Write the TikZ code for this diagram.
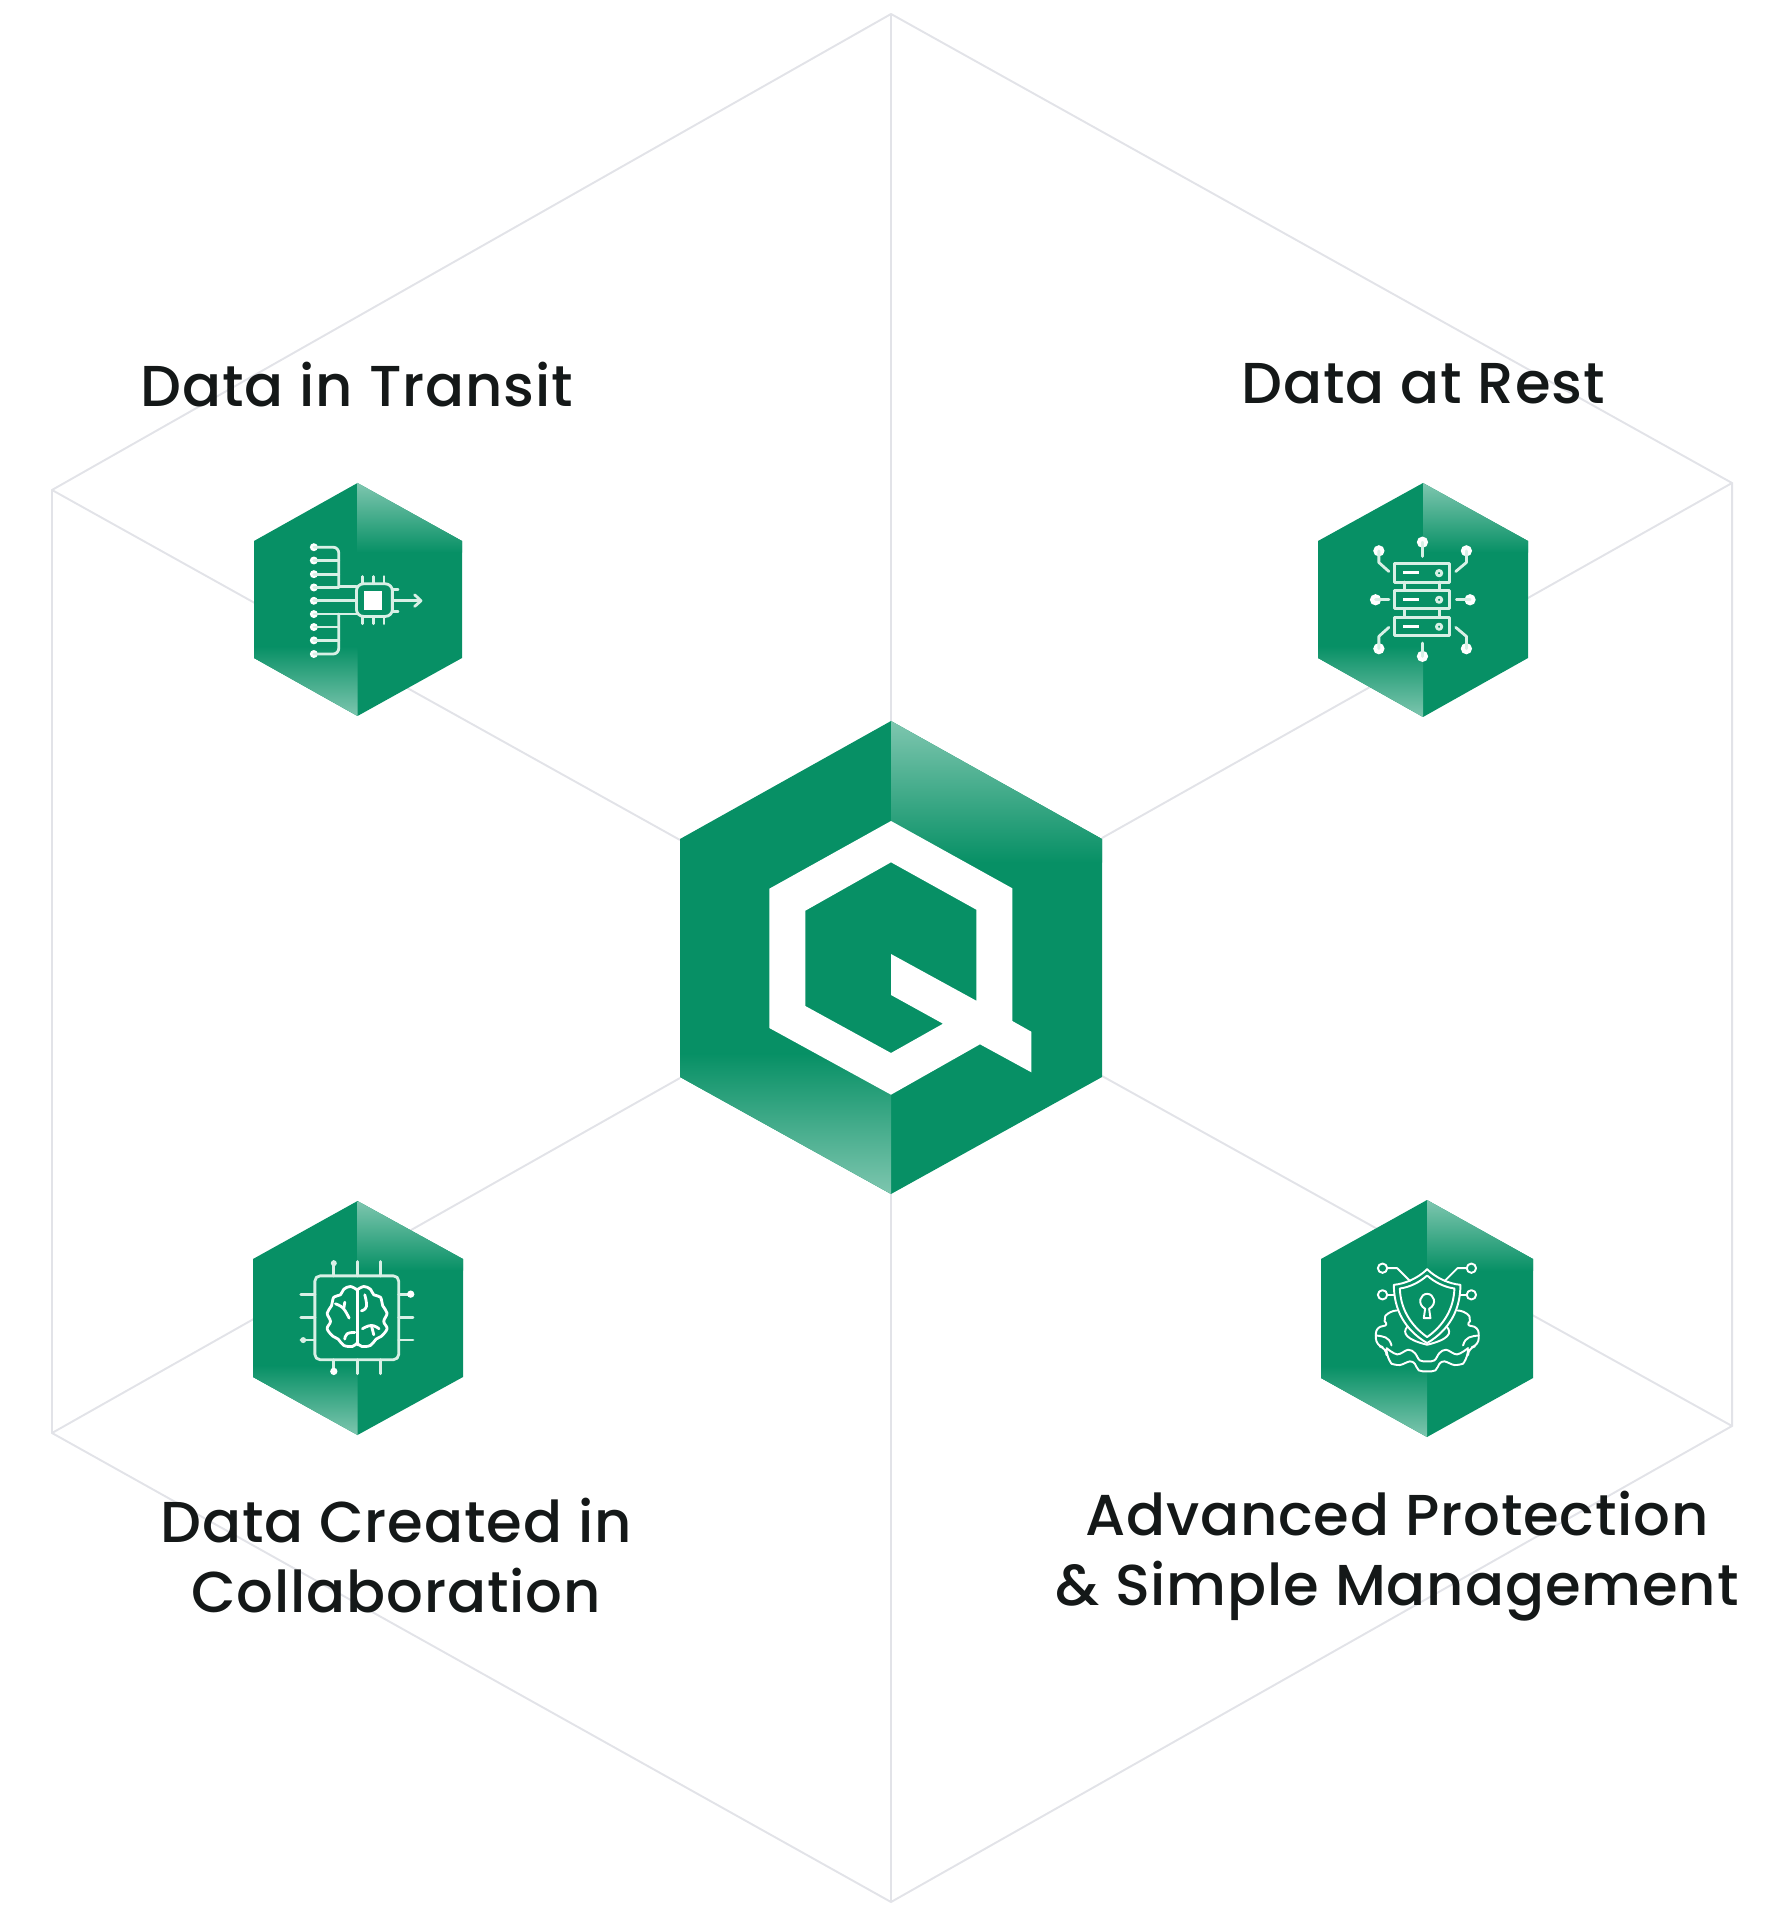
\documentclass[tikz,border=0pt]{standalone}
\usepackage{fontspec}
\setmainfont{Poppins Medium}[LetterSpace=1.5]
\usepackage{tikz}
\usetikzlibrary{positioning}
\definecolor{qgreen}{HTML}{079065}
\definecolor{qlight}{HTML}{7EC6AF}
\definecolor{wireline}{HTML}{E2E3E8}
\definecolor{labelink}{HTML}{141818}
\definecolor{iconwhite}{HTML}{D8F0E6}

\newcommand{\hexbadge}[7]{%
    \pgfmathsetmacro{\bandup}{#5+0.2*(#5-#4)}
    \pgfmathsetmacro{\bandlow}{#6-0.2*(#7-#6)}
    \fill[qgreen] (#1,#4) -- (#3,#5) -- (#3,#6) -- (#1,#7) -- (#2,#6) -- (#2,#5) -- cycle;
    \shade[top color=qlight, bottom color=qgreen] (#1,#4) -- (#3,#5) -- (#3,\bandup) -- (#1,\bandup) -- cycle;
    \shade[top color=qgreen, bottom color=qlight] (#1,#7) -- (#2,#6) -- (#2,\bandlow) -- (#1,\bandlow) -- cycle;
}

\begin{document}
\begin{tikzpicture}[x=0.01cm, y=-0.01cm,
            wire/.style={draw=wireline, line width=0.55pt},
            label/.style={text=labelink, align=center, inner sep=0pt, font=\fontsize{16.4}{19.9}\selectfont},
            zoomed/.style={x=0.00333cm, y=-0.00333cm},
            icon/.style={draw=iconwhite, line width=0.8pt, line cap=round, line join=round},
            thinicon/.style={draw=white, line width=0.55pt, line cap=round, line join=round}]
    \useasboundingbox (0,0) rectangle (1782,1916);

    \coordinate (outT) at (891,14);
    \coordinate (outRU) at (1732,483);
    \coordinate (outRL) at (1732,1426);
    \coordinate (outB) at (891,1902);
    \coordinate (outLL) at (52,1433);
    \coordinate (outLU) at (52,490);
    \coordinate (hubT) at (891,721);
    \coordinate (hubRU) at (1102,838);
    \coordinate (hubRL) at (1102,1076);
    \coordinate (hubB) at (891,1194);
    \coordinate (hubLL) at (680,1078);
    \coordinate (hubLU) at (680,840);

    \draw[wire] (outT) -- (outRU) -- (outRL) -- (outB) -- (outLL) -- (outLU) -- cycle;
    \draw[wire] (outT) -- (hubT);
    \draw[wire] (outB) -- (hubB);
    \draw[wire] (outRU) -- (hubRU);
    \draw[wire] (outRL) -- (hubRL);
    \draw[wire] (outLU) -- (hubLU);
    \draw[wire] (outLL) -- (hubLL);

    \hexbadge{891}{680}{1102}{721}{839}{1077}{1194}
    \fill[white, even odd rule] (891,821) -- (1012.3,888.3) -- (1012.3,1021) -- (1031.3,1031.7) -- (1031.3,1072.3) -- (980,1044.3) -- (891,1094.7) -- (769.3,1028) -- (769.3,888.7) -- cycle
        (891,862.3) -- (976.3,909.7) -- (976.3,1000.7) -- (891,954) -- (891,995) -- (943,1023.7) -- (891,1053) -- (805.3,1006) -- (805.3,910.7) -- cycle;

    \hexbadge{357.5}{254}{462}{483}{541}{658}{716}
    \hexbadge{1423}{1318}{1528}{483}{541}{658}{717}
    \hexbadge{357.5}{253}{463}{1201}{1259}{1377}{1435}
    \hexbadge{1427}{1321}{1533}{1200}{1259}{1378}{1437}

    \node[label] (transit) at (357,385) {Data in Transit};
    \node[label] (rest) at (1423,384) {Data at Rest};
    \node[label] (collab) at (396,1556) {Data Created in\\Collaboration};
    \node[label] (protect) at (1397,1556) {Advanced Protection\\\& Simple Management};

    \begin{scope}[shift={(220,460)}, zoomed]
        \foreach \y in {262,302,343,383,423,463,502,542,583}
            \fill[white] (282,\y) circle (12);
        \draw[icon] (282,262) -- (340,262) to[out=0, in=90] (357,280) -- (357,380) -- (410,380);
        \draw[icon] (282,302) -- (357,302);
        \draw[icon] (282,343) -- (357,343);
        \draw[icon] (282,383) -- (357,383);
        \draw[icon] (282,423) -- (410,423);
        \draw[icon] (282,463) -- (410,463);
        \draw[icon] (282,502) -- (357,502);
        \draw[icon] (282,542) -- (357,542);
        \draw[icon] (282,583) -- (340,583) to[out=0, in=-90] (357,565) -- (357,463);
        \draw[icon, rounded corners=2pt] (410,372) rectangle (518,470);
        \foreach \x in {427,460,493} {
            \draw[icon] (\x,350) -- (\x,372);
            \draw[icon] (\x,470) -- (\x,492);
        }
        \draw[icon] (518,390) -- (535,390);
        \draw[icon] (518,455) -- (535,455);
        \draw[icon] (518,423) -- (602,423);
        \draw[icon] (585,405) -- (604,423) -- (585,440);
        \fill[white] (432,395) rectangle (488,452);
    \end{scope}

    \begin{scope}[shift={(1290,460)}, zoomed]
        \foreach \y in {312,392,473} {
            \draw[icon] (315,\y) rectangle (480,\y+55);
            \fill[white] (340,\y+23) rectangle (388,\y+32);
            \draw[icon] (448,\y+28) circle (8);
        }
        \foreach \x in {345,450} {
            \draw[icon] (\x,367) -- (\x,392);
            \draw[icon] (\x,447) -- (\x,473);
        }
        \foreach \px/\py in {267/273,398/247,530/273,257/420,541/420,267/567,398/590,530/567}
            \fill[white] (\px,\py) circle (17);
        \draw[icon] (267,273) -- (267,308) -- (297,335);
        \draw[icon] (398,247) -- (398,290);
        \draw[icon] (530,273) -- (530,308) -- (498,335);
        \draw[icon] (257,420) -- (297,420);
        \draw[icon] (541,420) -- (500,420);
        \draw[icon] (267,567) -- (267,530) -- (297,503);
        \draw[icon] (398,590) -- (398,550);
        \draw[icon] (530,567) -- (530,530) -- (498,503);
    \end{scope}

    \begin{scope}[shift={(220,1180)}, zoomed]
        \draw[icon, rounded corners=1.5pt] (285,288) rectangle (537,540);
        \foreach \k in {342,412,482} {
            \draw[icon] (\k,288) -- (\k,245);
            \draw[icon] (\k,540) -- (\k,582);
        }
        \foreach \k in {343,412,481} {
            \draw[icon] (285,\k) -- (243,\k);
            \draw[icon] (537,\k) -- (580,\k);
        }
        \fill[iconwhite] (342,250) circle (9);
        \fill[white] (342,575) circle (11);
        \fill[iconwhite] (250,481) circle (9);
        \fill[white] (573,343) circle (11);
        \draw[thinicon, line width=0.8pt] (412,330) -- (412,495);
        \draw[thinicon, line width=0.8pt] plot[smooth, tension=0.6] coordinates {(412,330) (392,320) (372,328) (362,345) (342,352) (335,378) (322,400) (332,425) (322,447) (340,470) (355,478) (372,497) (398,500) (412,490)};
        \draw[thinicon, line width=0.8pt] plot[smooth, tension=0.6] coordinates {(412,330) (432,320) (452,328) (462,345) (482,352) (489,378) (502,400) (492,425) (502,447) (484,470) (469,478) (452,497) (426,500) (412,490)};
        \draw[thinicon, line width=0.8pt] plot[smooth, tension=0.7] coordinates {(347,372) (370,385) (388,415)};
        \draw[thinicon, line width=0.8pt] (375,367) -- (372,385);
        \draw[thinicon, line width=0.8pt] plot[smooth, tension=0.8] coordinates {(375,478) (382,462) (405,458)};
        \draw[thinicon, line width=0.8pt] plot[smooth, tension=0.8] coordinates {(435,345) (440,380) (425,393)};
        \draw[thinicon, line width=0.8pt] plot[smooth, tension=0.8] coordinates {(428,447) (455,437) (478,447)};
        \draw[thinicon, line width=0.8pt] (455,437) -- (462,465);
    \end{scope}

    \begin{scope}[shift={(1290,1180)}, zoomed]
        \draw[thinicon] (412,268) .. controls (385,295) and (345,312) .. (312,315) .. controls (312,390) and (345,450) .. (412,490) .. controls (479,450) and (512,390) .. (512,315) .. controls (479,312) and (439,295) .. (412,268) -- cycle;
        \draw[thinicon] (412,287) .. controls (390,307) and (360,322) .. (330,326) .. controls (332,385) and (360,435) .. (412,472) .. controls (464,435) and (492,385) .. (494,326) .. controls (464,322) and (434,307) .. (412,287) -- cycle;
        \draw[thinicon] (402,415) -- (406,387) .. controls (380,372) and (392,342) .. (412,342) .. controls (432,342) and (444,372) .. (418,387) -- (422,415) -- cycle;
        \draw[thinicon] (278,265) circle (14);
        \draw[thinicon] (545,265) circle (14);
        \draw[thinicon] (278,345) circle (14);
        \draw[thinicon] (545,345) circle (14);
        \draw[thinicon] (292,265) -- (322,265) -- (360,303);
        \draw[thinicon] (531,265) -- (503,265) -- (465,303);
        \draw[thinicon] (292,345) -- (312,345);
        \draw[thinicon] (531,345) -- (512,345);
        \draw[thinicon, rounded corners=2pt] (322,392) -- (300,392) .. controls (285,410) and (285,425) .. (300,438) -- (258,440) -- (258,497) -- (290,505) -- (290,530) -- (305,552);
        \draw[thinicon, rounded corners=2pt] (502,392) -- (525,392) .. controls (540,410) and (540,425) .. (525,438) -- (567,440) -- (567,497) -- (535,505) -- (535,530) -- (520,552);
        \draw[thinicon] plot[smooth, tension=0.6] coordinates {(305,552) (330,556) (360,545) (375,552) (387,572) (412,575) (437,572) (449,552) (464,545) (494,556) (520,552)};
        \draw[thinicon] plot[smooth, tension=0.6] coordinates {(290,505) (322,524) (355,510) (375,520) (390,542) (412,545) (434,542) (449,520) (469,510) (502,524) (535,505)};
        \draw[thinicon] (353,440) .. controls (335,460) and (350,480) .. (412,495) .. controls (475,480) and (490,460) .. (470,440);
        \draw[thinicon] (258,467) .. controls (280,470) and (298,470) .. (305,497);
        \draw[thinicon] (567,467) .. controls (545,470) and (527,470) .. (520,497);
    \end{scope}
\end{tikzpicture}
\end{document}
